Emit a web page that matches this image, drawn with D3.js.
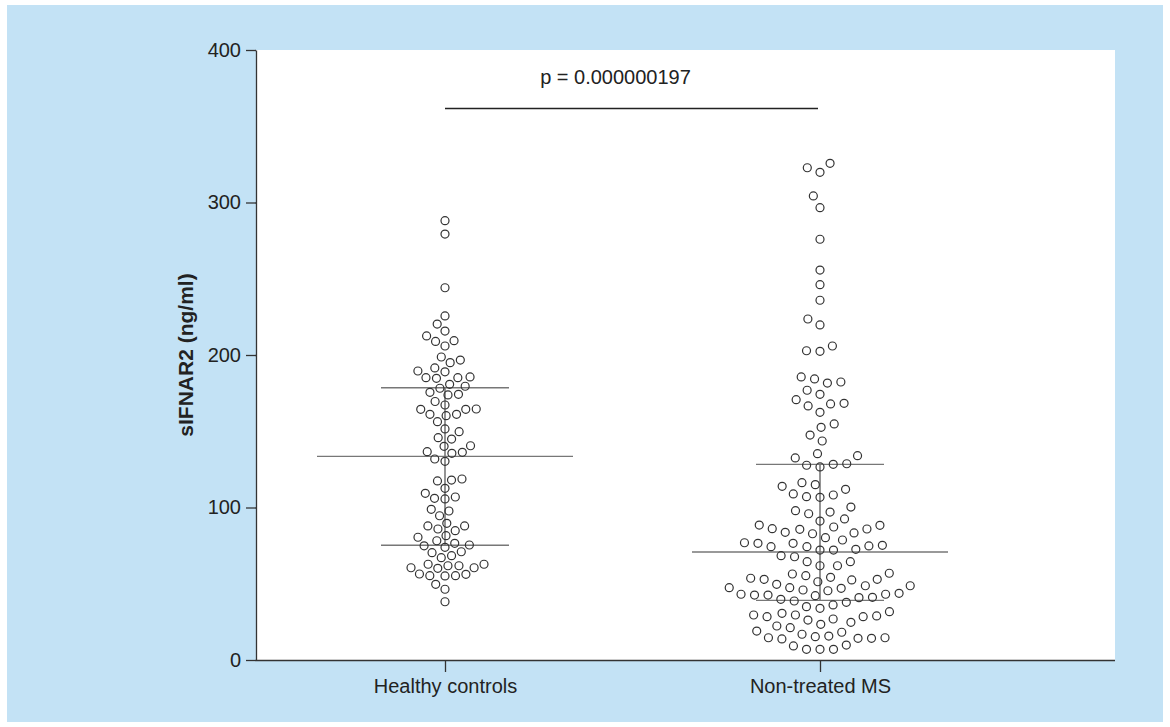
<!doctype html>
<html>
<head>
<meta charset="utf-8" />
<title>sIFNAR2 scatter</title>
<style>
  html,body{margin:0;background:#fff}
  svg{display:block;font-family:"Liberation Sans", Arial, sans-serif}
  .axis path,.axis line{stroke:#333;stroke-width:1.3}
  .axis text{font-size:20px;fill:#222}
</style>
</head>
<body>
<svg id="chart" width="1170" height="727"></svg>
<script src="https://cdn.jsdelivr.net/npm/d3@7"></script>
<script>
// ---- data ----
const groups = ["Healthy controls", "Non-treated MS"];

const healthy = [288.1, 279.3, 244.1, 225.6, 220.3, 215.7, 212.5, 208.9, 209.4, 205.9,
  198.7, 196.7, 195.0, 191.5, 189.5, 189.0, 185.6, 185.1, 185.1, 184.7,
  180.8, 178.2, 179.5, 173.8, 174.2, 175.5, 169.5, 167.2, 164.6, 164.4,
  164.4, 161.1, 160.2, 161.1, 156.3, 149.7, 151.5, 144.9, 145.8, 140.1,
  140.5, 135.5, 136.6, 136.2, 130.3, 131.8, 118.7, 117.4, 118.0, 112.6,
  106.9, 105.6, 106.0, 109.3, 97.7, 98.8, 94.6, 89.6, 87.9, 84.8,
  85.9, 87.9, 81.5, 80.5, 78.2, 74.9, 76.5, 73.9, 75.4, 71.0,
  70.4, 68.4, 67.1, 60.5, 62.8, 61.8, 61.8, 62.8, 60.1, 60.5,
  56.4, 55.3, 55.1, 55.3, 56.2, 49.6, 46.4, 38.2];

const nonTreatedMS = [325.7, 322.8, 319.8, 304.3, 296.6, 275.9, 255.7, 246.1, 235.9, 223.6,
  219.7, 205.9, 202.8, 202.4, 185.6, 184.3, 182.3, 181.6, 176.9, 174.2,
  170.7, 168.3, 167.9, 166.6, 162.4, 154.8, 152.6, 147.5, 143.6, 135.3,
  134.0, 132.5, 128.7, 128.3, 127.7, 126.6, 116.3, 115.0, 113.9, 111.9,
  108.9, 108.2, 107.1, 106.7, 100.3, 97.9, 97.0, 95.9, 92.5, 91.1,
  88.5, 88.3, 87.2, 86.1, 85.9, 85.7, 83.7, 83.3, 82.8, 80.2,
  78.7, 76.9, 76.5, 76.5, 75.2, 74.8, 74.3, 74.3, 72.6, 72.1,
  72.1, 68.4, 67.7, 64.5, 64.5, 61.8, 61.8, 56.9, 56.4, 55.3,
  54.2, 53.6, 52.9, 52.9, 52.5, 51.3, 49.6, 48.7, 48.7, 47.4,
  47.4, 47.0, 45.9, 45.4, 43.7, 43.1, 43.1, 42.6, 42.6, 42.2,
  41.1, 40.9, 39.8, 38.7, 37.8, 36.1, 35.0, 33.9, 31.7, 30.6,
  29.5, 29.5, 28.9, 28.4, 28.4, 26.9, 26.2, 24.7, 23.4, 22.3,
  21.2, 19.0, 18.2, 16.9, 15.7, 15.3, 14.6, 14.6, 14.2, 14.2,
  13.8, 9.8, 9.2, 7.0, 7.0, 7.0];

const medians = [133.5, 70.8];
const q1s = [75.2, 39.1];
const q3s = [178.5, 128.3];
const yTicks = [0, 100, 200, 300, 400];
const pLabel = "p = 0.000000197";

// ---- layout ----
const svg = d3.select("#chart");
const plotL = 256, plotR = 1115, plotT = 50, plotB = 660;
const spacing = [10.5, 13.5];   // swarm spacing per group (healthy is packed tighter)

svg.append("rect").attr("x", 7).attr("y", 5).attr("width", 1156).attr("height", 717)
  .attr("fill", "#c3e2f5");
svg.append("rect").attr("x", plotL).attr("y", plotT).attr("width", plotR - plotL).attr("height", plotB - plotT)
  .attr("fill", "#fff");

const y = d3.scaleLinear().domain([0, 400]).range([plotB, plotT]);
const x = d3.scalePoint().domain(groups).range([445, 820]);

// y axis
svg.append("g").attr("class", "axis").attr("transform", `translate(${plotL},0)`)
  .call(d3.axisLeft(y).tickValues(yTicks).tickSize(10).tickPadding(4).tickSizeOuter(0))
  .call(g => g.selectAll("text").attr("dx", "-1"));

// x axis
svg.append("g").attr("class", "axis").attr("transform", `translate(0,${plotB})`)
  .call(d3.axisBottom(x).tickSize(12).tickPadding(7))
  .call(g => g.select(".domain").attr("d", `M${plotL},0.5H${plotR}`));

svg.append("text")
  .attr("transform", `translate(193,${y(200)}) rotate(-90)`)
  .attr("text-anchor", "middle")
  .attr("font-size", 21).attr("font-weight", "bold").attr("fill", "#222")
  .text("sIFNAR2 (ng/ml)");

// simple beeswarm: each point goes to the free x offset nearest the centre
function swarm(values, cx, d) {
  const pts = values.map(v => ({v, py: y(v)})).sort((a, b) => b.py - a.py);
  const placed = [];
  pts.forEach(p => {
    const near = placed.filter(q => Math.abs(q.py - p.py) < d);
    const cands = [0];
    near.forEach(q => {
      const dx = Math.sqrt(d * d - (q.py - p.py) ** 2);
      cands.push(q.dx - dx, q.dx + dx);
    });
    cands.sort((a, b) => Math.abs(a) - Math.abs(b));
    for (const c of cands) {
      if (near.every(q => (q.dx - c) ** 2 + (q.py - p.py) ** 2 >= d * d - 0.01)) { p.dx = c; break; }
    }
    placed.push(p);
  });
  return placed.map(p => ({x: cx + p.dx, y: p.py}));
}

[healthy, nonTreatedMS].forEach((vals, i) => {
  const cx = x(groups[i]);
  const g = svg.append("g");

  // median and interquartile range
  g.append("line").attr("x1", cx).attr("x2", cx).attr("y1", y(q1s[i])).attr("y2", y(q3s[i]))
    .attr("stroke", "#666").attr("stroke-width", 1.4);
  [[medians[i], 128], [q1s[i], 64], [q3s[i], 64]].forEach(([v, w]) => {
    g.append("line").attr("x1", cx - w).attr("x2", cx + w).attr("y1", y(v)).attr("y2", y(v))
      .attr("stroke", "#777").attr("stroke-width", 1.4);
  });

  g.selectAll("circle").data(swarm(vals, cx, spacing[i])).join("circle")
    .attr("cx", d => d.x).attr("cy", d => d.y).attr("r", 4)
    .attr("fill", "none").attr("stroke", "#333").attr("stroke-width", 1.2);
});

// significance bracket
svg.append("line").attr("x1", x(groups[0])).attr("x2", x(groups[1]) - 2)
  .attr("y1", 108.5).attr("y2", 108.5).attr("stroke", "#222").attr("stroke-width", 1.3);
svg.append("text").attr("x", (x(groups[0]) + x(groups[1])) / 2 - 17).attr("y", 84)
  .attr("text-anchor", "middle").attr("font-size", 20).attr("fill", "#222")
  .text(pLabel);
</script>
</body>
</html>
